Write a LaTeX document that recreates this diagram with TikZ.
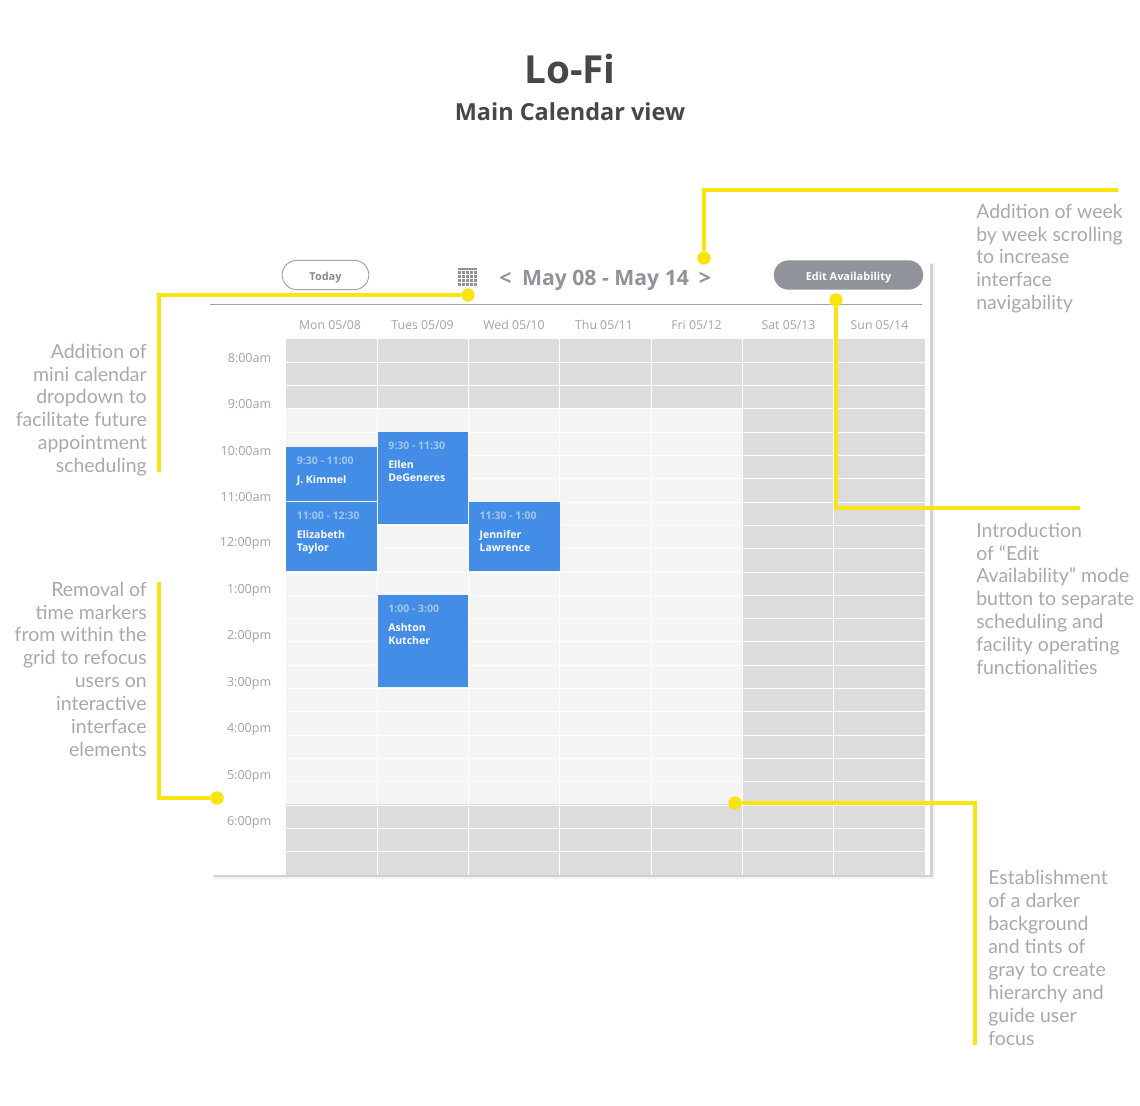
\documentclass[tikz,border=0pt]{standalone}
\usepackage{fontspec}
\setmainfont{Open Sans}
\newfontfamily\notefamily{Lato}
\definecolor{inkdark}{HTML}{474747}
\definecolor{notegray}{HTML}{A9A9A9}
\definecolor{labelgray}{HTML}{A3A3A3}
\definecolor{pillgray}{HTML}{90939A}
\definecolor{slotdark}{HTML}{DCDCDC}
\definecolor{slotlight}{HTML}{F4F4F4}
\definecolor{eventblue}{HTML}{438DE6}
\definecolor{eventtime}{HTML}{A2C6F1}
\definecolor{leadyellow}{HTML}{F8E40F}

\tikzset{
  note/.style={inner sep=0pt, text=notegray, font=\notefamily\fontsize{14.6}{17.2}\selectfont},
  notel/.style={note, anchor=north west, align=left},
  noter/.style={note, anchor=north east, align=right},
  hourlabel/.style={anchor=east, inner sep=0pt, text=labelgray, font=\fontsize{9.4}{11}\selectfont},
  daylabel/.style={inner sep=0pt, text=labelgray, font=\fontsize{9.2}{11}\selectfont},
  event/.style={anchor=north west, inner sep=0pt, fill=eventblue, minimum width=68pt},
  eventtext/.style={anchor=north west, inner sep=0pt, align=left, text=white, font=\bfseries\fontsize{7.9}{9.8}\selectfont},
  timetext/.style={anchor=north west, inner sep=0pt, text=eventtime, font=\bfseries\fontsize{7.9}{9.8}\selectfont},
  dot/.style={circle, fill=leadyellow, inner sep=0pt, minimum size=10pt},
  lead/.style={draw=leadyellow, line width=2.3pt},
  pill/.style={rounded corners=11pt, inner sep=0pt, minimum height=22pt, text height=9.3pt, text depth=1.7pt, font=\bfseries\fontsize{8.2}{10}\selectfont}
}

\begin{document}
\begin{tikzpicture}[x=0.75pt, y=-0.75pt]
  \useasboundingbox (0,0) rectangle (1140,1106);

  % title
  \node [inner sep=0pt, text=inkdark, font=\bfseries\fontsize{29}{32}\selectfont] (title) at (570,69) {Lo-Fi};
  \node [inner sep=0pt, text=inkdark, font=\bfseries\fontsize{17.6}{20}\selectfont] (subtitle) at (570,112) {Main Calendar view};

  % card
  \fill [black!5] (213,263) rectangle (934.5,878.5);
  \fill [black!18] (214,264) rectangle (933,877);
  \fill [white] (213,259) rectangle (930,875);

  % grid
  \fill [slotlight] (286,339) rectangle (742,875);
  \fill [slotdark] (286,339) rectangle (742,408);
  \fill [slotdark] (286,804) rectangle (742,875);
  \fill [slotdark] (742,339) rectangle (925,875);
  \foreach \i in {1,...,22}
    \draw [white, line width=0.7pt] (286,339+\i*23.3) -- (925,339+\i*23.3);
  \foreach \x in {377,468.5,559.5,651,742,833.5}
    \draw [white, line width=0.7pt] (\x,339) -- (\x,875);

  % header
  \draw [labelgray, line width=0.6pt] (210,304) -- (922,304);
  \node [pill, draw=labelgray, line width=0.7pt, text=labelgray!85!black, minimum width=65pt] (today) at (325.5,275) {Today};
  \node [pill, fill=pillgray, text=white, minimum width=112pt] (edit) at (848.5,275) {Edit Availability};
  \foreach \i in {0,...,4}
    \foreach \j in {0,...,3}
      \fill [pillgray] (458.3+\i*4,270.6+\j*4) rectangle +(3,3);
  \fill [pillgray] (458.3,268) rectangle (477.3,270);
  \node [inner sep=0pt, text=pillgray, font=\bfseries\fontsize{15.9}{19}\selectfont] (range) at (605.5,280) {May 08 - May 14};
  \node [inner sep=0pt, text=pillgray, font=\bfseries\fontsize{15.9}{19}\selectfont] (prev) at (505.5,279) {<};
  \node [inner sep=0pt, text=pillgray, font=\bfseries\fontsize{15.9}{19}\selectfont] (next) at (705,279) {>};

  % days
  \foreach \x/\t in {330/{Mon 05/08}, 422.5/{Tues 05/09}, 514/{Wed 05/10}, 604/{Thu 05/11}, 696.5/{Fri 05/12}, 788.5/{Sat 05/13}, 879.5/{Sun 05/14}}
    \node [daylabel] at (\x,325) {\t};

  % hours
  \foreach [count=\i from 0] \t in {8:00am, 9:00am, 10:00am, 11:00am, 12:00pm, 1:00pm, 2:00pm, 3:00pm, 4:00pm, 5:00pm, 6:00pm}
    \node [hourlabel] (hour\i) at (271.5,358+\i*46.45) {\t};

  % events
  \foreach \n/\x/\y/\h/\t/\s in {kimmel/286/447/54/9:30 - 11:00/J. Kimmel, taylor/286/502/69/11:00 - 12:30/Elizabeth\\Taylor, ellen/377.5/432/92/9:30 - 11:30/Ellen\\DeGeneres, lawrence/468.8/502/69/11:30 - 1:00/Jennifer\\Lawrence, kutcher/377.5/595/92/1:00 - 3:00/Ashton\\Kutcher} {
    \node [event, minimum height=\h*0.75pt] (ev\n) at (\x,\y) {};
    \node [timetext] (time\n) at (\x+10.5,\y+10) {\t};
    \node [eventtext] (name\n) at (\x+10.5,\y+28) {\s};
  }

  % annotations
  \node [notel] (noteweek) at (976,203.5) {Addition of week\\by week scrolling\\to increase\\interface\\navigability};
  \node [notel] (noteedit) at (976,522.5) {Introduction\\of “Edit\\Availability” mode\\button to separate\\scheduling and\\facility operating\\functionalities};
  \node [notel] (notedark) at (988,870) {Establishment\\of a darker\\background\\and tints of\\gray to create\\hierarchy and\\guide user\\focus};
  \node [noter] (notemini) at (147,343.5) {Addition of\\mini calendar\\dropdown to\\facilitate future\\appointment\\scheduling};
  \node [noter] (notemark) at (147,581.5) {Removal of\\time markers\\from within the\\grid to refocus\\users on\\interactive\\interface\\elements};

  % leaders
  \node [dot] (dotweek) at (704,258) {};
  \node [dot] (dotmini) at (468,295) {};
  \node [dot] (dotedit) at (836,300) {};
  \node [dot] (dotmark) at (217,798) {};
  \node [dot] (dotdark) at (735,803) {};
  \coordinate (endweek) at (1118,190);
  \coordinate (endmini) at (159,472);
  \coordinate (endedit) at (1080,508);
  \coordinate (endmark) at (159,582);
  \coordinate (enddark) at (975,1045);
  \draw [lead] (dotweek) |- (endweek);
  \draw [lead] (dotmini) -| (endmini);
  \draw [lead] (dotedit) |- (endedit);
  \draw [lead] (dotmark) -| (endmark);
  \draw [lead] (dotdark) -| (enddark);
\end{tikzpicture}
\end{document}
